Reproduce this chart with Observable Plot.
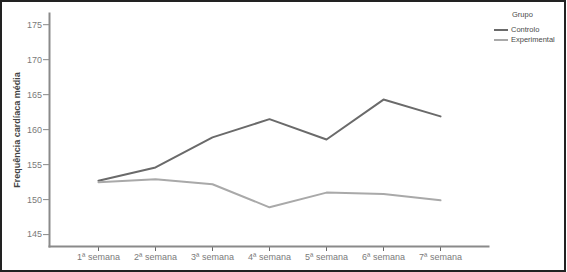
<!DOCTYPE html>
<html>
<head>
<meta charset="utf-8">
<script src="https://cdn.jsdelivr.net/npm/d3@7"></script>
<script src="https://cdn.jsdelivr.net/npm/@observablehq/plot@0.6"></script>
<style>
  html, body { margin: 0; padding: 0; background: #fff; }
  #wrap { position: relative; width: 567px; height: 272px; overflow: hidden; font-family: "Liberation Sans", Arial, sans-serif; }
  #wrap svg { position: absolute; left: 0; top: 0; }
  #border { position: absolute; left: 0; top: 0; width: 566px; height: 272px; box-sizing: border-box; border: 2px solid #222; pointer-events: none; }
  #legend { position: absolute; left: 494px; top: 10px; font-size: 7.5px; color: #4a4a4a; }
  #legend .title { position: absolute; left: 18px; top: 0; width: 20px; text-align: center; }
  #legend .item { position: absolute; left: 0; white-space: nowrap; }
  #legend .sw { display: inline-block; width: 14px; height: 0; border-top: 2px solid; vertical-align: middle; margin-right: 3px; }
</style>
</head>
<body>
<div id="wrap"></div>
<script>
const weeks = ["1ª semana", "2ª semana", "3ª semana", "4ª semana", "5ª semana", "6ª semana", "7ª semana"];
const controlo = [152.7, 154.6, 158.9, 161.5, 158.6, 164.3, 161.9];
const experimental = [152.5, 152.9, 152.2, 148.9, 151.0, 150.8, 149.9];
const groups = ["Controlo", "Experimental"];
const groupColors = ["#6a6a6a", "#a9a9a9"];
const yTicks = [145, 150, 155, 160, 165, 170, 175];
const yLabel = "Frequência cardíaca média";

const rows = [];
weeks.forEach((w, i) => {
  rows.push({week: w, value: controlo[i], group: groups[0]});
  rows.push({week: w, value: experimental[i], group: groups[1]});
});

const chart = Plot.plot({
  width: 567,
  height: 272,
  marginLeft: 49,
  marginRight: 79,
  marginTop: 13,
  marginBottom: 26,
  style: {fontFamily: "Liberation Sans, Arial, sans-serif", background: "transparent"},
  x: {type: "point", domain: weeks, padding: 0.84},
  y: {domain: [143.3, 176.6]},
  color: {domain: groups, range: groupColors},
  marks: [
    Plot.axisY({ticks: yTicks, tickSize: 6, tickPadding: 1.5, fontSize: 9, color: "#7a7a7a", stroke: "#888",
      label: yLabel, labelAnchor: "center", labelOffset: 36}),
    Plot.axisX({tickSize: 5, tickPadding: 2, fontSize: 9, color: "#7a7a7a", stroke: "#666", label: null}),
    Plot.frame({anchor: "left", stroke: "#8a8a8a", strokeWidth: 2}),
    Plot.frame({anchor: "bottom", stroke: "#8a8a8a", strokeWidth: 2}),
    Plot.line(rows, {x: "week", y: "value", z: "group", stroke: "group", strokeWidth: 2})
  ]
});
document.getElementById("wrap").appendChild(chart);

// y-axis label styling (remove arrow, bold)
chart.querySelectorAll("text").forEach(t => {
  if (t.textContent.indexOf("Frequência") >= 0) {
    t.textContent = yLabel;
    t.setAttribute("font-weight", "bold");
    t.setAttribute("font-size", "9");
    t.setAttribute("fill", "#444");
  }
});

const legend = document.createElement("div");
legend.id = "legend";
legend.innerHTML = `<div class="title">Grupo</div>` +
  groups.map((g, i) => `<div class="item" style="top:${15 + i * 10}px"><span class="sw" style="border-color:${groupColors[i]}"></span>${g}</div>`).join("");
document.getElementById("wrap").appendChild(legend);

const border = document.createElement("div");
border.id = "border";
document.getElementById("wrap").appendChild(border);
</script>
</body>
</html>
